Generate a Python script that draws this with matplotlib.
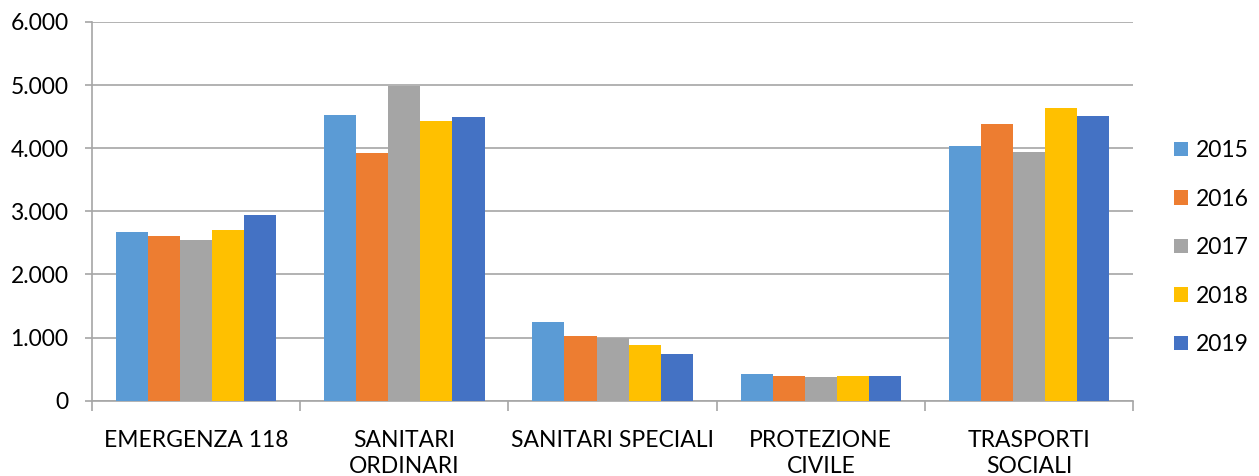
import numpy as np
import matplotlib
matplotlib.use("Agg")
import matplotlib.pyplot as plt
from matplotlib.ticker import FuncFormatter

categories = ["EMERGENZA 118", "SANITARI\nORDINARI", "SANITARI SPECIALI",
              "PROTEZIONE\nCIVILE", "TRASPORTI\nSOCIALI"]
years = ["2015", "2016", "2017", "2018", "2019"]
values = {
    "2015": [2675, 4520, 1240, 425, 4030],
    "2016": [2610, 3925, 1022, 390, 4380],
    "2017": [2552, 4980, 1000, 370, 3935],
    "2018": [2700, 4435, 880, 390, 4635],
    "2019": [2940, 4490, 732, 390, 4518],
}
colors = ["#5B9BD5", "#ED7D31", "#A5A5A5", "#FFC000", "#4472C4"]

plt.rcParams["font.family"] = ["Lato", "DejaVu Sans"]
fs = 16.5

fig = plt.figure(figsize=(12.59, 4.76), dpi=100)
ax = fig.add_axes([0.0731, 0.1582, 0.9000 - 0.0731, 0.9538 - 0.1582])

x = np.arange(len(categories))
bw = 0.154
for i, yr in enumerate(years):
    ax.bar(x + (i - 2) * bw, values[yr], width=bw, color=colors[i],
           label=yr, zorder=3)

ax.set_xlim(-0.5, len(categories) - 0.5)
ax.set_ylim(0, 6000)
ax.set_yticks(np.arange(0, 6001, 1000))
ax.yaxis.set_major_formatter(FuncFormatter(lambda v, p: f"{int(v):,}".replace(",", ".")))
ax.grid(axis="y", color="#a6a6a6", linewidth=1.2, zorder=0)

# category boundary ticks, labels centred between them
ax.set_xticks(np.arange(-0.5, len(categories), 1.0))
ax.set_xticklabels([])
ax.set_xticks(x, minor=True)
ax.set_xticklabels(categories, minor=True, fontsize=fs, linespacing=1.3, va="top")
ax.tick_params(axis="x", which="major", length=7, color="#a6a6a6", width=1.2)
ax.tick_params(axis="x", which="minor", length=0, pad=21)
ax.tick_params(axis="y", length=5, color="#a6a6a6", width=1.2, labelsize=fs, pad=12)

for side in ["top", "right"]:
    ax.spines[side].set_visible(False)
for side in ["left", "bottom"]:
    ax.spines[side].set_color("#a6a6a6")
    ax.spines[side].set_linewidth(1.2)

fig.legend(loc="center left", bbox_to_anchor=(0.916, 0.480), frameon=False,
           fontsize=fs, handlelength=0.6, handleheight=0.6,
           handletextpad=0.35, labelspacing=1.2)

fig.savefig("out.png", dpi=100)
